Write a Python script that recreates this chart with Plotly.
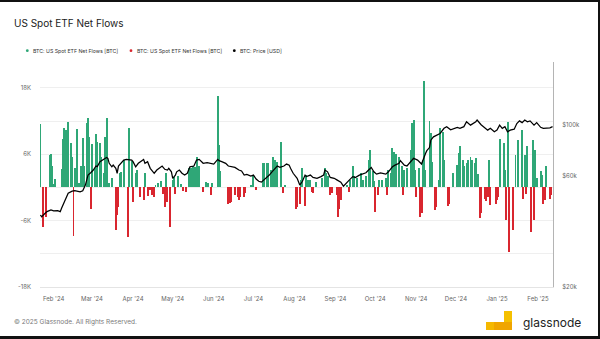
import plotly.graph_objects as go

# ---- daily net flows of the US spot ETFs, in BTC ----
flow_dates = [
    "2024-01-22", "2024-01-24", "2024-01-26", "2024-01-29", "2024-01-30", "2024-01-31",
    "2024-02-01", "2024-02-02", "2024-02-07", "2024-02-08", "2024-02-09", "2024-02-10",
    "2024-02-11", "2024-02-12", "2024-02-14", "2024-02-15", "2024-02-16", "2024-02-17",
    "2024-02-19", "2024-02-20", "2024-02-22", "2024-02-23", "2024-02-24", "2024-02-26",
    "2024-02-27", "2024-02-28", "2024-02-29",
    "2024-03-01", "2024-03-03", "2024-03-04", "2024-03-05", "2024-03-07", "2024-03-08",
    "2024-03-10", "2024-03-11", "2024-03-12", "2024-03-14", "2024-03-16", "2024-03-19",
    "2024-03-20", "2024-03-21", "2024-03-22", "2024-03-23", "2024-03-25", "2024-03-28",
    "2024-03-29", "2024-03-31",
    "2024-04-01", "2024-04-03", "2024-04-04", "2024-04-06", "2024-04-09", "2024-04-10",
    "2024-04-12", "2024-04-14", "2024-04-15", "2024-04-17", "2024-04-18", "2024-04-20",
    "2024-04-22", "2024-04-24", "2024-04-25", "2024-04-26", "2024-04-27", "2024-04-29",
    "2024-05-01", "2024-05-02", "2024-05-03", "2024-05-05", "2024-05-07", "2024-05-09",
    "2024-05-11", "2024-05-13", "2024-05-15", "2024-05-16", "2024-05-18", "2024-05-19",
    "2024-05-21", "2024-05-24", "2024-05-26", "2024-05-28", "2024-05-30", "2024-05-31",
    "2024-06-04", "2024-06-05", "2024-06-06", "2024-06-12", "2024-06-13", "2024-06-14",
    "2024-06-17", "2024-06-19", "2024-06-20", "2024-06-21", "2024-06-24", "2024-06-25",
    "2024-06-29",
    "2024-07-01", "2024-07-03", "2024-07-08", "2024-07-09", "2024-07-11", "2024-07-12",
    "2024-07-14", "2024-07-16", "2024-07-17", "2024-07-18", "2024-07-19", "2024-07-22",
    "2024-07-23", "2024-07-25",
    "2024-08-02", "2024-08-03", "2024-08-05", "2024-08-06", "2024-08-07", "2024-08-09",
    "2024-08-10", "2024-08-11", "2024-08-13", "2024-08-14", "2024-08-15", "2024-08-17",
    "2024-08-22", "2024-08-24", "2024-08-25", "2024-08-26", "2024-08-28", "2024-08-29",
    "2024-09-02", "2024-09-03", "2024-09-04", "2024-09-05", "2024-09-10", "2024-09-11",
    "2024-09-12", "2024-09-14", "2024-09-15", "2024-09-17", "2024-09-20", "2024-09-22",
    "2024-09-24", "2024-09-26", "2024-09-27", "2024-09-29", "2024-09-30",
    "2024-10-01", "2024-10-03", "2024-10-04", "2024-10-06", "2024-10-09", "2024-10-10",
    "2024-10-11", "2024-10-13", "2024-10-14", "2024-10-15", "2024-10-17", "2024-10-19",
    "2024-10-21", "2024-10-22", "2024-10-23", "2024-10-25", "2024-10-28", "2024-10-29",
    "2024-10-30", "2024-10-31",
    "2024-11-01", "2024-11-03", "2024-11-04", "2024-11-05", "2024-11-06", "2024-11-07",
    "2024-11-08", "2024-11-11", "2024-11-12", "2024-11-13", "2024-11-15", "2024-11-16",
    "2024-11-18", "2024-11-19", "2024-11-21", "2024-11-22", "2024-11-25", "2024-11-26",
    "2024-11-29",
    "2024-12-02", "2024-12-03", "2024-12-04", "2024-12-06", "2024-12-07", "2024-12-09",
    "2024-12-10", "2024-12-12", "2024-12-13", "2024-12-15", "2024-12-16", "2024-12-18",
    "2024-12-19", "2024-12-20", "2024-12-23", "2024-12-24", "2024-12-25", "2024-12-26",
    "2024-12-27", "2024-12-31",
    "2025-01-01", "2025-01-02", "2025-01-03", "2025-01-06", "2025-01-07", "2025-01-08",
    "2025-01-09", "2025-01-10", "2025-01-13", "2025-01-15", "2025-01-17", "2025-01-20",
    "2025-01-21", "2025-01-22", "2025-01-23", "2025-01-24", "2025-01-27", "2025-01-28",
    "2025-01-29", "2025-01-30", "2025-01-31",
    "2025-02-03", "2025-02-04", "2025-02-05", "2025-02-06", "2025-02-07", "2025-02-10",
    "2025-02-11",
]
flow_btc = [
    11400, -7100, -5300, 5900, 6000, 3800,
    600, 1500, 3300, 8700, 10700, 10400,
    6800, 11900, 8000, 5600, -8800, 3600,
    10600, 800, 3800, 8900, 3900, 11600,
    12500, 9100, -3900,
    7900, 3500, 9700, 8300, 8100, 5500,
    2600, 9200, 12500, 900, 1800, -7700,
    -5000, -3500, 2700, 2800, 5000, -8900,
    10700, 4800,
    -2600, 2600, 3200, -1800, -2300, 2600,
    -1500, -500, -1400, -1700, 500, 800,
    1100, -1100, -3500, 2600, -2700, -7100,
    1400, 1900, -1100, 2000, 600, -600,
    -750, 3600, 3500, 3900, 3700, 5600,
    3900, -750, 1050, 750, -1400, 900,
    16600, 7700, 3000, -3000, -2800, -2600,
    -1400, -1800, -2300, -1700, -1800, -1050,
    450,
    2000, -500, 4400, 4500, 4400, 4400,
    3200, 5600, 5000, 2300, 4700, 8300,
    -1050, 450,
    -3900, -3500, -2900, 1400, 3500, -3300,
    2300, 1400, 1400, -750, -1050, 1050,
    1700, 3500, 2700, 2000, -1400, -1050,
    -1400, -5300, -3800, -2300, 450, -750,
    1400, 3800, 2000, 1700, 2600, 1400,
    2000, 5000, 6700, 2900, 1100,
    -4400, -1400, 1400, 1400, 1700, -1400,
    3200, 2600, 7100, 6500, 6100, 5600,
    3800, -1400, 3200, 3500, 6700, 11600,
    12200, 3200,
    -1700, 3500, -5400, -4700, 5000, 19300,
    3200, 12000, 9800, 4700, -4100, -3500,
    1400, 10700, 10100, 5000, -3400, -3000,
    2600,
    4100, 6200, 7500, 5000, 3900, 4400,
    4900, 5600, 5000, 4400, 5300, 2400,
    -5600, -4700, -2000, -2400, -1700, 5000,
    -3200, -2900,
    -2300, -1700, 8800, 8100, 3200, -5900,
    11800, -11600, -7700, 5900, 8600, 10400,
    -2000, 5900, -1100, 7500, -8000, 8600,
    -5900, 6800, 1800,
    3000, 2300, -2900, -2300, 3900, -2000,
    -1400,
]

# ---- BTC price, in thousands of USD ----
price_dates = [
    "2024-01-22", "2024-01-23", "2024-01-25", "2024-01-27", "2024-01-30", "2024-02-01",
    "2024-02-04", "2024-02-06", "2024-02-07", "2024-02-10", "2024-02-12", "2024-02-15",
    "2024-02-17", "2024-02-21", "2024-02-23", "2024-02-25", "2024-02-27", "2024-02-29",
    "2024-03-02", "2024-03-04", "2024-03-05", "2024-03-07", "2024-03-10", "2024-03-12",
    "2024-03-13", "2024-03-14", "2024-03-16", "2024-03-17", "2024-03-19", "2024-03-20",
    "2024-03-21", "2024-03-23", "2024-03-25", "2024-03-27", "2024-03-29", "2024-03-31",
    "2024-04-01", "2024-04-03", "2024-04-05", "2024-04-07", "2024-04-09", "2024-04-10",
    "2024-04-12", "2024-04-14", "2024-04-15", "2024-04-17", "2024-04-19", "2024-04-21",
    "2024-04-23", "2024-04-25", "2024-04-27", "2024-04-28", "2024-04-30", "2024-05-01",
    "2024-05-03", "2024-05-04", "2024-05-06", "2024-05-08", "2024-05-10", "2024-05-12",
    "2024-05-14", "2024-05-17", "2024-05-19", "2024-05-21", "2024-05-22", "2024-05-24",
    "2024-05-27", "2024-05-29", "2024-06-01", "2024-06-04", "2024-06-05", "2024-06-07",
    "2024-06-10", "2024-06-12", "2024-06-15", "2024-06-17", "2024-06-20", "2024-06-22",
    "2024-06-24", "2024-06-26", "2024-06-29", "2024-07-01", "2024-07-03", "2024-07-05",
    "2024-07-07", "2024-07-09", "2024-07-11", "2024-07-13", "2024-07-15", "2024-07-18",
    "2024-07-19", "2024-07-21", "2024-07-24", "2024-07-26", "2024-07-28", "2024-07-29",
    "2024-07-31", "2024-08-03", "2024-08-05", "2024-08-07", "2024-08-09", "2024-08-10",
    "2024-08-13", "2024-08-15", "2024-08-18", "2024-08-21", "2024-08-23", "2024-08-24",
    "2024-08-26", "2024-08-28", "2024-08-31", "2024-09-02", "2024-09-05", "2024-09-07",
    "2024-09-09", "2024-09-11", "2024-09-14", "2024-09-16", "2024-09-19", "2024-09-21",
    "2024-09-24", "2024-09-26", "2024-09-28", "2024-09-30", "2024-10-02", "2024-10-05",
    "2024-10-07", "2024-10-09", "2024-10-11", "2024-10-14", "2024-10-16", "2024-10-19",
    "2024-10-20", "2024-10-23", "2024-10-25", "2024-10-29", "2024-10-30", "2024-11-02",
    "2024-11-04", "2024-11-05", "2024-11-08", "2024-11-09", "2024-11-11", "2024-11-12",
    "2024-11-14", "2024-11-17", "2024-11-19", "2024-11-22", "2024-11-24", "2024-11-27",
    "2024-11-29", "2024-12-02", "2024-12-04", "2024-12-07", "2024-12-09", "2024-12-12",
    "2024-12-16", "2024-12-17", "2024-12-20", "2024-12-22", "2024-12-25", "2024-12-27",
    "2024-12-30", "2025-01-01", "2025-01-03", "2025-01-05", "2025-01-07", "2025-01-09",
    "2025-01-11", "2025-01-14", "2025-01-16", "2025-01-18", "2025-01-20", "2025-01-22",
    "2025-01-24", "2025-01-26", "2025-01-28", "2025-01-29", "2025-01-31", "2025-02-03",
    "2025-02-05", "2025-02-08", "2025-02-10", "2025-02-12",
]
price_kusd = [
    40.8, 40.1, 41.2, 42.2, 42.9, 42.5,
    42.6, 42.2, 43.6, 47.3, 50.6, 51.7,
    51.9, 51.3, 51.9, 54.9, 60.6, 62.0,
    63.7, 66.3, 65.9, 69.2, 70.8, 72.2,
    71.5, 68.1, 65.8, 66.9, 64.8, 61.7,
    66.3, 68.1, 70.3, 70.8, 70.3, 70.3,
    69.2, 65.8, 68.1, 69.7, 70.8, 68.1,
    69.2, 64.8, 63.7, 61.7, 63.7, 65.2,
    66.3, 64.2, 63.7, 64.8, 62.6, 58.7,
    60.6, 62.6, 63.7, 61.7, 60.6, 61.7,
    65.8, 66.3, 70.3, 70.8, 69.7, 68.1,
    68.5, 68.1, 67.6, 70.8, 69.9, 69.2,
    68.1, 66.3, 65.8, 65.4, 63.7, 63.1,
    60.6, 61.0, 60.0, 60.6, 58.3, 57.0,
    56.5, 57.8, 59.2, 60.6, 62.6, 65.4,
    66.3, 65.4, 66.3, 67.6, 66.9, 64.8,
    61.7, 58.7, 54.9, 57.0, 60.6, 59.7,
    60.6, 59.2, 58.7, 59.7, 60.6, 63.7,
    62.6, 59.2, 58.7, 57.8, 56.5, 54.3,
    55.6, 57.4, 59.7, 59.2, 60.6, 61.2,
    62.0, 63.7, 65.4, 62.6, 61.2, 62.0,
    61.7, 61.2, 62.6, 65.8, 66.9, 68.1,
    70.0, 66.9, 66.3, 70.3, 71.6, 70.3,
    68.1, 67.6, 75.0, 77.2, 79.6, 85.6,
    88.5, 90.0, 91.5, 96.3, 97.9, 94.9,
    95.5, 97.1, 96.3, 97.9, 102.8, 99.4,
    102.8, 104.6, 99.8, 97.3, 94.6, 96.3,
    93.1, 94.6, 99.4, 96.3, 97.9, 93.1,
    94.6, 95.5, 101.0, 103.7, 101.9, 104.6,
    102.8, 103.7, 101.0, 99.4, 101.9, 97.3,
    96.3, 96.3, 96.8, 97.9,
]

# ---- axis ticks ----
flow_tickvals = [-18000, -12000, -6000, 0, 6000, 12000, 18000]
flow_ticktext = ["-18K", "", "-6K", "", "6K", "", "18K"]
price_tickvals = [20000, 60000, 100000]
price_ticktext = ["$20k", "$60k", "$100k"]

GREEN = "#2fa777"
RED = "#d9262f"
FONT = "Inter"

inflow = [v if v > 0 else None for v in flow_btc]
outflow = [v if v < 0 else None for v in flow_btc]
price_usd = [p * 1000 for p in price_kusd]

DAY_MS = 86_400_000
fig = go.Figure()
fig.add_trace(go.Bar(x=flow_dates, y=inflow, name="BTC: US Spot ETF Net Flows [BTC]",
                     marker=dict(color=GREEN, line=dict(width=0)), width=0.72 * DAY_MS))
fig.add_trace(go.Bar(x=flow_dates, y=outflow, name="BTC: US Spot ETF Net Flows [BTC]",
                     marker=dict(color=RED, line=dict(width=0)), width=0.72 * DAY_MS))
fig.add_trace(go.Scatter(x=price_dates, y=price_usd, name="BTC: Price [USD]", yaxis="y2",
                         mode="lines", line=dict(color="#000000", width=1.25)))

# figure geometry (pixels)
FW, FH = 600, 339
L, R, T, B = 40, 47, 62, 52
PW, PH = FW - L - R, FH - T - B


def px(x):
    return (x - L) / PW


def py(y):
    return (FH - B - y) / PH


def label(text, x, y, size, color, family=FONT, **kw):
    return dict(text=text, x=px(x), y=py(y), xref="paper", yref="paper",
                xanchor="left", yanchor="middle", showarrow=False,
                font=dict(size=size, color=color, family=family), **kw)


annotations = [
    label("US Spot ETF Net Flows", 12, 22.5, 10, "#1b1b1b"),
    label("© 2025 Glassnode. All Rights Reserved.", 12, 322, 6.5, "#7a7a7a"),
    label("glassnode", 521, 322, 12, "#222222"),
]
shapes = []

legend_items = [
    (27.3, GREEN, "BTC: US Spot ETF Net Flows [BTC]"),
    (131.0, RED, "BTC: US Spot ETF Net Flows [BTC]"),
    (234.3, "#000000", "BTC: Price [USD]"),
]
for lx, col, text in legend_items:
    shapes.append(dict(type="circle", xref="paper", yref="paper",
                       x0=px(lx - 1.4), x1=px(lx + 1.4), y0=py(50.7 + 1.4), y1=py(50.7 - 1.4),
                       fillcolor=col, line=dict(width=0)))
    annotations.append(label(text, lx + 3.6, 50.7, 5.2, "#333333"))

# glassnode mark
shapes += [
    dict(type="rect", xref="paper", yref="paper", x0=px(486), x1=px(494), y0=py(330), y1=py(322),
         fillcolor="#f5b800", line=dict(width=0)),
    dict(type="rect", xref="paper", yref="paper", x0=px(494), x1=px(512), y0=py(330), y1=py(322),
         fillcolor="#f0a500", line=dict(width=0)),
    dict(type="rect", xref="paper", yref="paper", x0=px(504), x1=px(512), y0=py(322), y1=py(311),
         fillcolor="#f5c000", line=dict(width=0)),
]

# dark frame edges
shapes += [
    dict(type="rect", xref="paper", yref="paper", x0=px(0), x1=px(600), y0=py(2), y1=py(0),
         fillcolor="#111111", line=dict(width=0), layer="above"),
    dict(type="rect", xref="paper", yref="paper", x0=px(0), x1=px(600), y0=py(339), y1=py(336),
         fillcolor="#111111", line=dict(width=0), layer="above"),
    dict(type="rect", xref="paper", yref="paper", x0=px(598), x1=px(600), y0=py(339), y1=py(0),
         fillcolor="#111111", line=dict(width=0), layer="above"),
]

fig.update_layout(
    width=FW, height=FH,
    margin=dict(l=L, r=R, t=T, b=B, autoexpand=False),
    paper_bgcolor="#ffffff", plot_bgcolor="#ffffff",
    barmode="overlay", bargap=0,
    showlegend=False,
    font=dict(family=FONT, color="#666666", size=6),
    annotations=annotations, shapes=shapes,
    xaxis=dict(type="date", range=["2024-01-21 17:00", "2025-02-12 08:00"],
               tickformat="%b '%y", dtick="M1", tick0="2024-02-01", ticks="",
               showgrid=False, showline=True, linecolor="#e4e4e4", linewidth=1,
               zeroline=False, tickfont=dict(size=6, color="#666666"), ticklabelstandoff=6),
    yaxis=dict(range=[-18000, 22700], tickvals=flow_tickvals, ticktext=flow_ticktext,
               showgrid=True, gridcolor="#efefef", gridwidth=1, zeroline=False,
               showline=False, ticks="", tickfont=dict(size=6, color="#666666"),
               ticklabelstandoff=8),
    yaxis2=dict(type="log", range=[4.30103, 5.269], overlaying="y", side="right",
                tickvals=price_tickvals, ticktext=price_ticktext, showgrid=False,
                zeroline=False, showline=True, linecolor="#b4b4b4", linewidth=1, ticks="",
                tickfont=dict(size=6, color="#666666"), ticklabelstandoff=7),
)

fig.write_html("out.html")
